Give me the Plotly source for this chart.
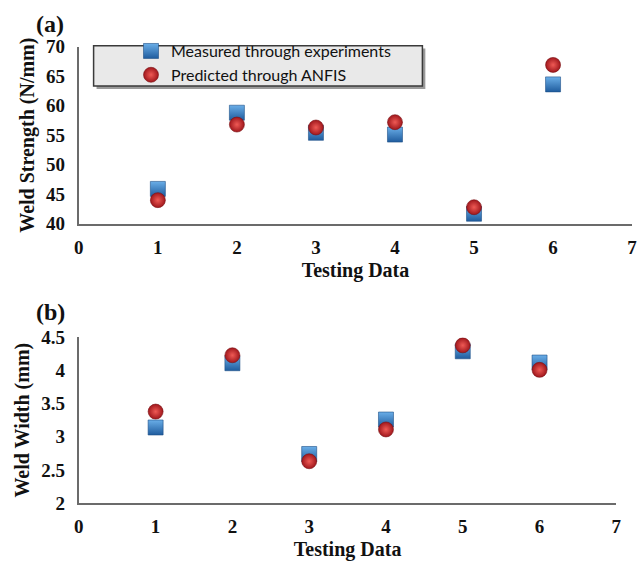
import plotly.graph_objects as go

test_ids = [1, 2, 3, 4, 5, 6]
strength_measured = [45.9, 58.8, 55.4, 55.1, 41.7, 63.6]
strength_predicted = [44.0, 56.8, 56.3, 57.2, 42.8, 66.9]
width_measured = [3.14, 4.11, 2.74, 3.26, 4.29, 4.12]
width_predicted = [3.38, 4.23, 2.63, 3.11, 4.38, 4.01]
x_ticks = [0, 1, 2, 3, 4, 5, 6, 7]
strength_ticks = [40, 45, 50, 55, 60, 65, 70]
width_ticks = [2, 2.5, 3, 3.5, 4, 4.5]
width_tick_text = ["2", "2.5", "3", "3.5", "4", "4.5"]

W, H = 643, 566
serif = "Liberation Serif"
axis_col = "#6b6b6b"

sq_marker = dict(symbol="square", size=15, color="#6aaee8",
                 gradient=dict(type="vertical", color="#1f5c9e"),
                 line=dict(width=0.6, color="#1d4f86"))
ci_marker = dict(symbol="circle", size=15, color="#a0171c",
                 gradient=dict(type="radial", color="#ef5a55"),
                 line=dict(width=0.6, color="#7a1014"))

fig = go.Figure()
fig.add_trace(go.Scatter(x=test_ids, y=strength_measured, mode="markers", marker=sq_marker,
                         name="Measured through experiments", xaxis="x", yaxis="y"))
fig.add_trace(go.Scatter(x=test_ids, y=strength_predicted, mode="markers", marker=ci_marker,
                         name="Predicted through ANFIS", xaxis="x", yaxis="y"))
fig.add_trace(go.Scatter(x=test_ids, y=width_measured, mode="markers", marker=sq_marker,
                         showlegend=False, xaxis="x2", yaxis="y2"))
fig.add_trace(go.Scatter(x=test_ids, y=width_predicted, mode="markers", marker=ci_marker,
                         showlegend=False, xaxis="x2", yaxis="y2"))

tickfont = dict(family=serif, size=19, color="#111")
titlefont = dict(family=serif, size=20, color="#111")

def xa(domain, anchor):
    return dict(domain=domain, anchor=anchor, range=[0, 7], tickvals=x_ticks,
                ticktext=[f"<b>{v}</b>" for v in x_ticks],
                showgrid=False, zeroline=False, showline=True, linecolor=axis_col,
                linewidth=2, ticks="", tickfont=tickfont, ticklabelstandoff=5,
                title=dict(text="<b>Testing Data</b>", font=titlefont, standoff=6))

def ya(domain, anchor, rng, vals, text, title):
    return dict(domain=domain, anchor=anchor, range=rng, tickvals=vals, ticktext=text,
                showgrid=False, zeroline=False, showline=True, linecolor=axis_col,
                linewidth=2, ticks="", tickfont=tickfont, ticklabelstandoff=8,
                title=dict(text=title, font=titlefont, standoff=6))

fig.update_layout(
    width=W, height=H, margin=dict(l=0, r=0, t=0, b=0),
    paper_bgcolor="white", plot_bgcolor="white",
    xaxis=xa([75 / W, 637 / W], "y"),
    yaxis=ya([1 - 222 / H, 1 - 38 / H], "x", [40, 70], strength_ticks,
             [f"<b>{v}</b>" for v in strength_ticks], "<b>Weld Strength (N/mm)</b>"),
    xaxis2=xa([75 / W, 621 / W], "y2"),
    yaxis2=ya([1 - 512 / H, 1 - 340 / H], "x2", [2, 4.5], width_ticks,
              [f"<b>{t}</b>" for t in width_tick_text], "<b>Weld Width (mm)</b>"),
    legend=dict(x=128 / W, y=1 - 25 / H, xanchor="left", yanchor="top",
                bgcolor="rgba(0,0,0,0)", borderwidth=0,
                font=dict(family="Lato", size=16, color="#111"),
                tracegroupgap=0),
    showlegend=True,
)

# legend frame with shadow
fig.add_shape(type="rect", xref="paper", yref="paper", layer="below",
              x0=93 / W, x1=427 / W, y0=1 - 82 / H, y1=1 - 40 / H,
              fillcolor="#9a9a9a", line=dict(width=0))
fig.add_shape(type="rect", xref="paper", yref="paper", layer="below",
              x0=90 / W, x1=424 / W, y0=1 - 79 / H, y1=1 - 37 / H,
              fillcolor="#e9e9e9", line=dict(width=1.5, color="#3a3a3a"))

fig.add_annotation(text="<b>(a)</b>", xref="paper", yref="paper", x=30 / W, y=1 - 15 / H,
                   xanchor="left", yanchor="middle", showarrow=False, borderpad=0,
                   font=dict(family=serif, size=24, color="#111"))
fig.add_annotation(text="<b>(b)</b>", xref="paper", yref="paper", x=30 / W, y=1 - 314 / H,
                   xanchor="left", yanchor="middle", showarrow=False, borderpad=0,
                   font=dict(family=serif, size=24, color="#111"))

fig.write_html("out.html")
